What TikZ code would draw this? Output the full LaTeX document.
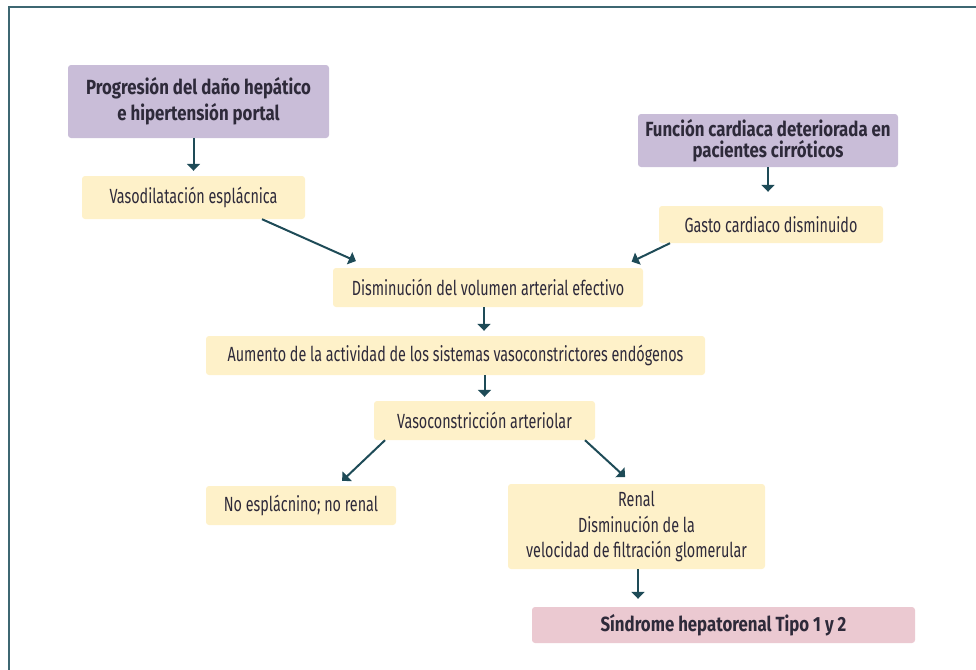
\documentclass[tikz,border=0pt]{standalone}
\usepackage{fontspec}
\setmainfont[FakeStretch=0.70]{Fira Sans}
\newfontfamily\boldfam[FakeStretch=0.82]{Fira Sans}
\usetikzlibrary{arrows.meta}
\definecolor{purplebox}{HTML}{C9BDD8}
\definecolor{yellowbox}{HTML}{FEF1C9}
\definecolor{pinkbox}{HTML}{EBC9D1}
\definecolor{txtc}{HTML}{2E2A3A}
\definecolor{arrowc}{HTML}{1E4B57}
\definecolor{framec}{HTML}{3D6772}
\tikzset{
  box/.style={rounded corners=3pt, inner sep=0pt, align=center, text=txtc,
    font=\fontsize{20.5}{25.5}\selectfont},
  ybox/.style={box, fill=yellowbox},
  pbox/.style={box, fill=purplebox, font=\fontsize{20.5}{26}\boldfam\bfseries},
  kbox/.style={box, fill=pinkbox, font=\fontsize{20.5}{26}\boldfam\bfseries},
  arr/.style={-{Triangle[width=13pt,length=7pt]}, line width=2pt, draw=arrowc},
  framel/.style={draw=framec, line width=2pt}
}
\begin{document}
\begin{tikzpicture}[x=1pt,y=-1pt]
\useasboundingbox (0,0) rectangle (976,669);
\draw[framel] (9,670) -- (9,7) -- (977,7);

\node[pbox, minimum width=261pt, minimum height=73pt] (b1) at (198.5,101.5)
  {Progresión del daño hepático\\e hipertensión portal};
\node[ybox, minimum width=223pt, minimum height=43pt] (b2) at (193.5,197.5)
  {Vasodilatación esplácnica};
\node[pbox, minimum width=260pt, minimum height=53pt, font=\fontsize{20.5}{20.5}\boldfam\bfseries] (b3) at (768,140.5)
  {Función cardiaca deteriorada en\\pacientes cirróticos};
\node[ybox, minimum width=224pt, minimum height=37pt] (b4) at (771,224.5)
  {Gasto cardiaco disminuido};
\node[ybox, minimum width=310pt, minimum height=39pt] (b5) at (488,287.5)
  {Disminución del volumen arterial efectivo};
\node[ybox, minimum width=499pt, minimum height=39pt] (b6) at (455.5,355.5)
  {Aumento de la actividad de los sistemas vasoconstrictores endógenos};
\node[ybox, minimum width=221pt, minimum height=39pt] (b7) at (484.5,420.5)
  {Vasoconstricción arteriolar};
\node[ybox, minimum width=190pt, minimum height=39pt] (b8) at (301,505.5)
  {No esplácnino; no renal};
\node[ybox, minimum width=257pt, minimum height=85pt] (b9) at (636.5,526.5)
  {Renal\\Disminución de la\\velocidad de filtración glomerular};
\node[kbox, minimum width=383pt, minimum height=36pt] (b10) at (723.5,625)
  {Síndrome hepatorenal Tipo 1 y 2};

\draw[arr, shorten >=5pt] (b2.north |- b1.south) -- (b2.north);
\draw[arr, shorten >=14pt] (b3.south) -- (b3.south |- b4.north);
\draw[arr, shorten >=16.5pt] ([xshift=68.5pt]b2.south) -- ([xshift=-117pt]b5.north);
\draw[arr, shorten >=14pt] ([xshift=-101pt]b4.south) -- ([xshift=131pt]b5.north);
\draw[arr, shorten >=5pt] ([xshift=-4pt]b5.south) -- ([xshift=-4pt]b5.south |- b6.north);
\draw[arr, shorten >=4pt] (b7.north |- b6.south) -- (b7.north);
\draw[arr, shorten >=7pt] ([xshift=-99.5pt]b7.south) -- ([xshift=36pt]b8.north);
\draw[arr, shorten >=10pt] ([xshift=100.5pt]b7.south) -- ([xshift=-4pt]b9.north);
\draw[arr, shorten >=8pt] ([xshift=1.5pt]b9.south) -- ([xshift=1.5pt]b9.south |- b10.north);
\end{tikzpicture}
\end{document}
